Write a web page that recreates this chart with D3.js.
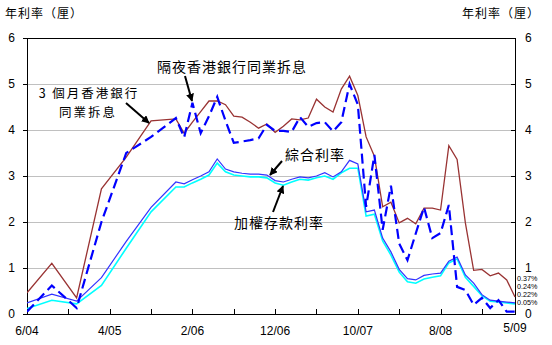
<!DOCTYPE html>
<html>
<head>
<meta charset="utf-8">
<script src="https://cdn.jsdelivr.net/npm/d3@7"></script>
<style>
html,body{margin:0;padding:0;background:#fff;}
svg{display:block;}
text{font-family:"Liberation Sans",Arial,"Noto Sans CJK TC",sans-serif;}
.cjk{font-family:"Noto Sans CJK TC","Noto Sans CJK SC",sans-serif;}
</style>
</head>
<body>
<svg id="chart" width="552" height="345"></svg>
<script>
// ---- data ----
const dates = ["2004-06","2004-09","2004-12","2005-03","2005-06","2005-09","2005-12",
  "2006-01","2006-02","2006-03","2006-04","2006-05","2006-06","2006-07","2006-08","2006-09","2006-10","2006-11","2006-12",
  "2007-01","2007-02","2007-03","2007-04","2007-05","2007-06","2007-07","2007-08","2007-09","2007-10","2007-11","2007-12",
  "2008-01","2008-02","2008-03","2008-04","2008-05","2008-06","2008-07","2008-08","2008-09","2008-10","2008-11","2008-12",
  "2009-01","2009-02","2009-03","2009-04","2009-05"];
const hibor3m = [0.46,1.10,0.35,2.72,3.41,4.20,4.24,
  3.93,4.17,4.40,4.63,4.63,4.55,4.30,4.28,4.17,4.04,4.13,3.95,
  4.08,4.24,4.22,4.26,4.67,4.50,4.39,4.89,5.17,4.75,3.85,3.43,
  2.33,2.43,1.98,2.08,1.96,2.30,2.30,2.26,3.66,3.36,1.98,0.95,
  0.97,0.83,0.89,0.74,0.37];
const hiborON = [0.05,0.62,0.13,2.00,3.50,3.85,4.26,
  3.84,4.59,3.93,4.30,4.72,4.20,3.72,3.75,3.78,3.82,4.11,3.98,
  3.98,3.96,4.28,4.07,4.15,4.17,3.97,4.17,5.00,4.55,2.33,3.46,
  1.83,2.79,1.53,1.17,1.75,2.32,1.65,1.76,2.37,0.59,0.52,0.20,
  0.35,0.13,0.30,0.05,0.05];
const composite = [0.24,0.43,0.28,0.79,1.58,2.32,2.87,
  2.83,2.92,3.00,3.09,3.37,3.15,3.09,3.06,3.04,3.04,3.02,2.90,
  2.87,2.93,2.98,2.96,3.00,3.07,2.98,3.09,3.34,3.26,2.22,2.26,
  1.65,1.35,0.97,0.77,0.74,0.84,0.87,0.89,1.15,1.24,0.85,0.67,
  0.42,0.30,0.28,0.26,0.24];
const deposit = [0.12,0.30,0.22,0.62,1.43,2.22,2.76,
  2.76,2.85,2.93,3.02,3.28,3.09,3.02,3.00,2.98,2.98,2.96,2.85,
  2.80,2.87,2.93,2.91,2.96,3.00,2.93,3.07,3.17,3.17,2.13,2.17,
  1.59,1.28,0.91,0.70,0.67,0.76,0.80,0.83,1.11,1.20,0.80,0.60,
  0.40,0.28,0.26,0.24,0.22];
const yTicks = [0,1,2,3,4,5,6];
const xTickLabels = ["6/04","4/05","2/06","12/06","10/07","8/08","5/09"];
const endLabels = ["0.37%","0.24%","0.22%","0.05%"];

// ---- helpers ----
const monthIndex = s => { const [y,m] = s.split("-").map(Number); return (y-2004)*12 + (m-6); };
const labelIndex = s => { const [m,y] = s.split("/").map(Number); return (2000+y-2004)*12 + (m-6); };

const svg = d3.select("#chart");
const L = 27, R = 515, T = 38, B = 314;
const x = d3.scaleLinear().domain([0,59]).range([L,R]);
const y = d3.scaleLinear().domain([0,6]).range([B,T]);

// gridlines
svg.append("g").selectAll("line").data(yTicks.filter(d=>d>0 && d<6)).join("line")
  .attr("x1",L).attr("x2",R).attr("y1",d=>y(d)).attr("y2",d=>y(d))
  .attr("stroke","#c0c0c0").attr("stroke-width",1).attr("shape-rendering","crispEdges");

// frame
svg.append("rect").attr("x",L).attr("y",T).attr("width",R-L).attr("height",B-T)
  .attr("fill","none").attr("stroke","#000").attr("stroke-width",1).attr("shape-rendering","crispEdges");

// left axis
const yl = svg.append("g").attr("transform",`translate(${L},0)`)
  .call(d3.axisLeft(y).tickValues(yTicks).tickSize(4).tickPadding(8).tickFormat(d3.format("d")));
yl.select(".domain").remove();
yl.selectAll("line").attr("shape-rendering","crispEdges");
yl.selectAll("text").attr("font-size",12).attr("fill","#000").style("font-family","Liberation Sans, Arial");

// right axis
const yr = svg.append("g").attr("transform",`translate(${R},0)`)
  .call(d3.axisRight(y).tickValues(yTicks).tickSize(-4).tickPadding(10).tickFormat(d3.format("d")));
yr.select(".domain").remove();
yr.selectAll("line").attr("shape-rendering","crispEdges");
yr.selectAll("text").attr("font-size",12).attr("fill","#000").style("font-family","Liberation Sans, Arial");

// bottom axis
const monthTicks = d3.range(0,60,5).concat([59]);
const xa = svg.append("g").attr("transform",`translate(0,${B})`)
  .call(d3.axisBottom(x).tickValues(monthTicks).tickSize(-5).tickFormat(""));
xa.select(".domain").remove();
xa.selectAll("line").attr("shape-rendering","crispEdges");
svg.append("g").selectAll("text").data(xTickLabels).join("text")
  .attr("x",d=>x(labelIndex(d))).attr("y",(d,i)=> i===xTickLabels.length-1 ? 332 : 335)
  .attr("text-anchor","middle").attr("font-size",12).attr("fill","#000").text(d=>d);

// series
const mk = vals => dates.map((d,i)=>({m:monthIndex(d), v:vals[i]}));
const line = d3.line().x(d=>x(d.m)).y(d=>y(d.v));
svg.append("clipPath").attr("id","pc").append("rect")
  .attr("x",L).attr("y",T-5).attr("width",R-L+1).attr("height",B-T+5);
const lines = svg.append("g").attr("clip-path","url(#pc)");
lines.append("path").datum(mk(hibor3m)).attr("d",line).attr("fill","none")
  .attr("stroke","#993333").attr("stroke-width",1.3);
lines.append("path").datum(mk(deposit)).attr("d",line).attr("fill","none")
  .attr("stroke","#00ffff").attr("stroke-width",1.6);
lines.append("path").datum(mk(composite)).attr("d",line).attr("fill","none")
  .attr("stroke","#3333ff").attr("stroke-width",1.2);
lines.append("path").datum(mk(hiborON)).attr("d",line).attr("fill","none")
  .attr("stroke","#0000ff").attr("stroke-width",2.2).attr("stroke-dasharray","10,5");

// axis titles
svg.append("text").attr("class","cjk").attr("x",5).attr("y",18).attr("font-size",12)
  .attr("letter-spacing",1).text("年利率（厘）");
svg.append("text").attr("class","cjk").attr("x",462).attr("y",18).attr("font-size",12)
  .attr("letter-spacing",1).text("年利率（厘）");

// end labels
const endY = [280.8,288.9,297,305.1];
svg.append("g").selectAll("text").data(endLabels).join("text")
  .attr("x",517).attr("y",(d,i)=>endY[i]).attr("font-size",7.2).text(d=>d);

// annotations
const defs = svg.append("defs");
defs.append("marker").attr("id","ah").attr("viewBox","0 0 10 10").attr("refX",9).attr("refY",5)
  .attr("markerWidth",4).attr("markerHeight",4).attr("orient","auto")
  .append("path").attr("d","M0,0 L10,5 L0,10 z").attr("fill","#000");
const arrow = (x1,y1,x2,y2)=> svg.append("line").attr("x1",x1).attr("y1",y1).attr("x2",x2).attr("y2",y2)
  .attr("stroke","#000").attr("stroke-width",2).attr("marker-end","url(#ah)");

const ann = (tx,ty,t,fs,ls)=> svg.append("text").attr("class","cjk").attr("x",tx).attr("y",ty)
  .attr("text-anchor","middle").attr("font-size",fs||14).attr("letter-spacing",ls==null?1:ls).text(t);
ann(89,98,"3 個月香港銀行",12.5,2);
ann(88,116.5,"同業拆息",12.5,2);
arrow(126,103,149,123);
ann(232,72,"隔夜香港銀行同業拆息");
arrow(185,76,192,101);
ann(315,160,"綜合利率");
arrow(282,161,270,175);
ann(279,228,"加權存款利率");
arrow(273,212,283,186);
</script>
</body>
</html>
